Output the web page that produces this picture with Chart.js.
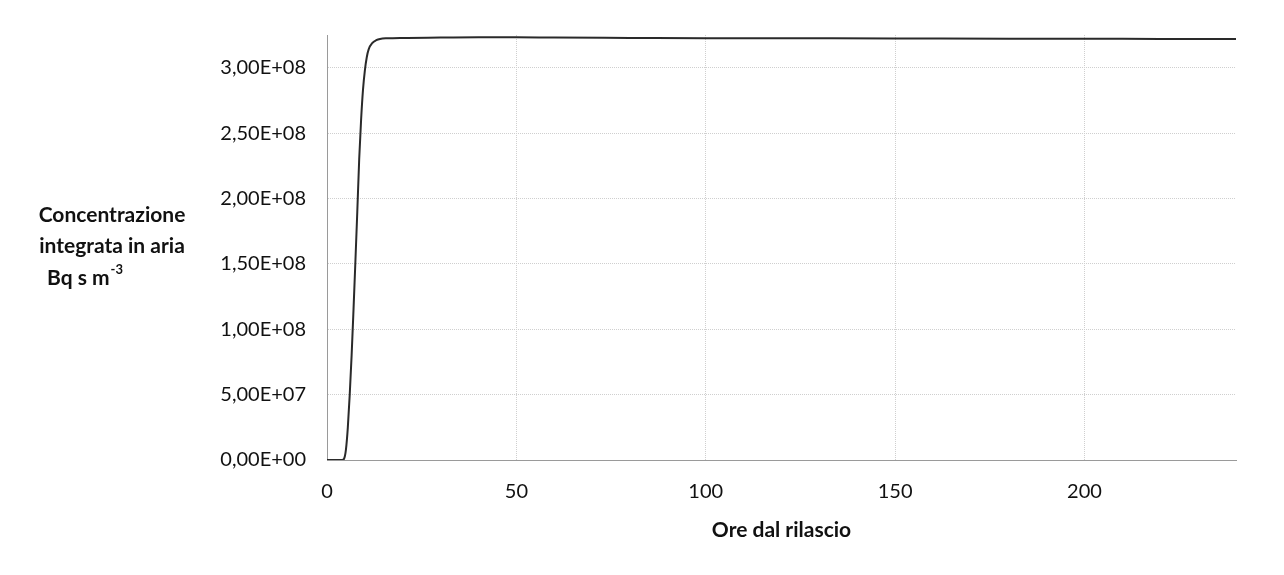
<!DOCTYPE html>
<html>
<head>
<meta charset="utf-8">
<script src="https://cdn.jsdelivr.net/npm/chart.js@4/dist/chart.umd.min.js"></script>
<style>
  html, body { margin: 0; padding: 0; background: #fff; }
  #wrap { width: 1284px; height: 575px; position: relative; }
</style>
</head>
<body>
<div id="wrap"><canvas id="c" width="1284" height="575"></canvas></div>
<script>
// hours after release
const hours = [0, 2, 4, 4.5, 5, 5.5, 6, 6.5, 7, 7.5, 8, 8.5, 9, 9.5, 10, 10.5, 11, 12, 13, 14, 16, 20, 30, 40, 50, 60, 80, 100, 120, 150, 180, 200, 220, 240];
// integrated air concentration, Bq s m-3
const concentration = [0, 0, 0, 1.0e6, 8.0e6, 2.5e7, 5.0e7, 8.0e7, 1.15e8, 1.52e8, 1.9e8, 2.3e8, 2.6e8, 2.83e8, 2.98e8, 3.08e8, 3.14e8, 3.19e8, 3.21e8, 3.22e8, 3.225e8, 3.228e8, 3.23e8, 3.232e8, 3.232e8, 3.23e8, 3.228e8, 3.226e8, 3.225e8, 3.224e8, 3.222e8, 3.222e8, 3.22e8, 3.22e8];
const xTicks = [0, 50, 100, 150, 200];
const yTicks = [0, 5e7, 1e8, 1.5e8, 2e8, 2.5e8, 3e8];
const yTitle = ['Concentrazione', 'integrata in aria'];
const xTitle = 'Ore dal rilascio';

const FONT = 'Lato, "Open Sans", sans-serif';

function fmtExp(v) {
  if (v === 0) return '0,00E+00';
  const e = Math.floor(Math.log10(v));
  const m = (v / Math.pow(10, e)).toFixed(2).replace('.', ',');
  return m + 'E+' + String(e).padStart(2, '0');
}

const titles = {
  id: 'titles',
  afterDraw(chart) {
    const ctx = chart.ctx;
    const area = chart.chartArea;
    ctx.save();
    ctx.fillStyle = '#111';
    ctx.font = 'bold 21px ' + FONT;
    ctx.textAlign = 'center';
    ctx.textBaseline = 'middle';
    ctx.fillText(yTitle[0], 112, 215);
    ctx.fillText(yTitle[1], 112, 246);
    // Bq s m^-3 with superscript
    ctx.textAlign = 'left';
    const base = 'Bq s m';
    const w1 = ctx.measureText(base).width;
    ctx.fillText(base, 47, 278);
    ctx.font = 'bold 13px ' + FONT;
    ctx.fillText('-3', 47 + w1 + 1, 270);
    ctx.font = 'bold 21px ' + FONT;
    ctx.textAlign = 'center';
    ctx.fillText(xTitle, (area.left + area.right) / 2, 530);
    ctx.restore();
  }
};

new Chart(document.getElementById('c'), {
  type: 'scatter',
  data: {
    datasets: [{
      data: hours.map((h, i) => ({ x: h, y: concentration[i] })),
      showLine: true,
      borderColor: '#2a2a2a',
      borderWidth: 2,
      pointRadius: 0,
      tension: 0.3,
      cubicInterpolationMode: 'monotone'
    }]
  },
  options: {
    responsive: false,
    animation: false,
    layout: { padding: { top: 35, right: 48, left: 0, bottom: 0 } },
    plugins: { legend: { display: false }, tooltip: { enabled: false } },
    scales: {
      x: {
        type: 'linear',
        min: 0, max: 240,
        afterFit(s) { s.height = 115; },
        afterBuildTicks(s) { s.ticks = xTicks.map(v => ({ value: v })); },
        grid: { color: '#cfcfcf', borderDash: [1, 2], drawTicks: false },
        border: { color: '#9a9a9a', dash: [1, 1] },
        ticks: { color: '#111', font: { family: FONT, size: 20 }, padding: 20, maxRotation: 0 }
      },
      y: {
        min: 0, max: 3.25e8,
        afterFit(s) { s.width = 327; },
        afterBuildTicks(s) { s.ticks = yTicks.map(v => ({ value: v })); },
        grid: { color: '#cfcfcf', borderDash: [1, 2], drawTicks: false },
        border: { color: '#9a9a9a', dash: [1, 1] },
        ticks: { color: '#111', font: { family: FONT, size: 20 }, padding: 21, callback: v => fmtExp(v) }
      }
    }
  },
  plugins: [titles]
});
</script>
</body>
</html>
